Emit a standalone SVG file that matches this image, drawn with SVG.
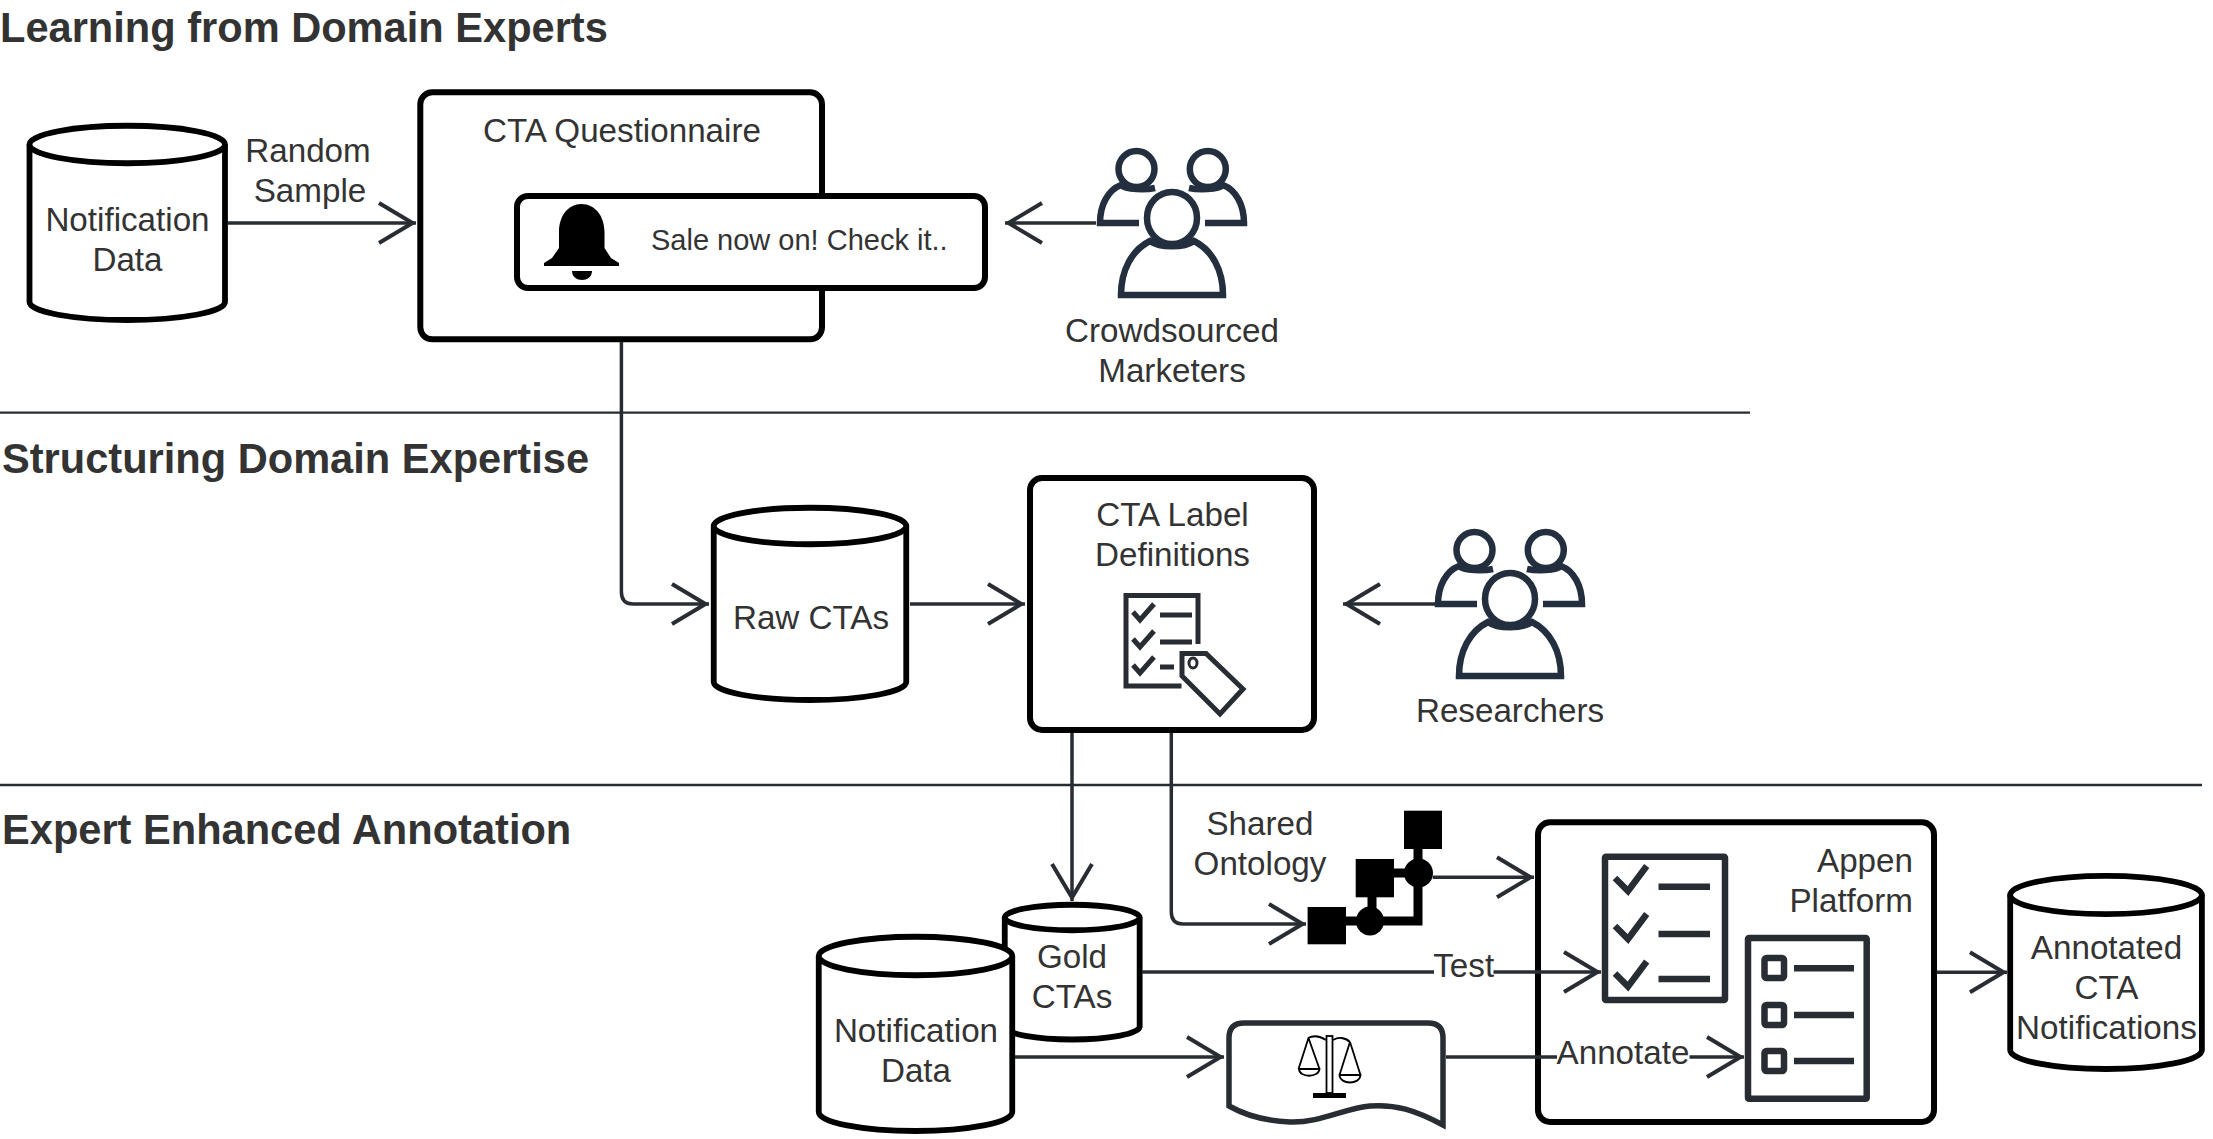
<svg xmlns="http://www.w3.org/2000/svg" xmlns:xlink="http://www.w3.org/1999/xlink" width="2213" height="1139" viewBox="0 0 2213 1139">
<style>
text{font-family:"Liberation Sans",Arial,sans-serif;font-size:33.2px;fill:#333333;text-anchor:middle}
text.title{font-size:41.6px;font-weight:700;text-anchor:start}
text.small{font-size:29px;text-anchor:start}
.box{fill:#fff;stroke:#000;stroke-width:6}
.cyl{fill:#fff;stroke:#000;stroke-width:5.8}
.conn{fill:none;stroke:#282c33;stroke-width:3.5;marker-end:url(#open)}
.plain{fill:none;stroke:#282c33;stroke-width:3.5}
.rule{stroke:#282c33;stroke-width:2.3}
.ink{fill:none;stroke:#282c33;stroke-width:5}
.ink2{fill:none;stroke:#282c33;stroke-width:6.5}
.aws{fill:none;stroke:#232f3e;stroke-width:6.5}
</style>
<defs>
<marker id="open" viewBox="-40 -23 42 46" refX="0" refY="0" markerWidth="42" markerHeight="46" markerUnits="userSpaceOnUse" orient="auto" overflow="visible">
<path d="M-37-20L-3.500 0L-37 20" fill="none" stroke="#282c33" stroke-width="4"/>
</marker>
<g id="people">
<ellipse class="aws" cx="1136.500" cy="169" rx="18" ry="18"/>
<ellipse class="aws" cx="1207.800" cy="169" rx="18" ry="18"/>
<path class="aws" d="M1139 223H1100C1100 205 1108 190 1121 185C1126 190 1146 190 1155 188"/>
<path class="aws" d="M1205 223H1244C1244 205 1236 190 1223 185C1218 190 1198 190 1189 188"/>
<ellipse cx="1172" cy="218" rx="29" ry="30" fill="#fff" stroke="none"/>
<ellipse class="aws" cx="1172" cy="218" rx="25" ry="26"/>
<path class="aws" d="M1121 295C1121 270 1132 250 1150 241C1160 248 1184 248 1194 241C1212 250 1223 270 1223 295Z"/>
</g>
</defs>

<g id="titles">
<text class="title" x="0" y="42">Learning from Domain Experts</text>
<text class="title" x="2" y="473">Structuring Domain Expertise</text>
<text class="title" x="2" y="844">Expert Enhanced Annotation</text>
</g>

<g id="rules">
<line class="rule" x1="0" y1="412.700" x2="1750" y2="412.700"/>
<line class="rule" x1="0" y1="785" x2="2202" y2="785"/>
</g>

<g id="node-notification-data">
<path class="cyl" d="M29.500 144.500V302A97.750 18 0 0 0 225 302V144.500"/>
<ellipse class="cyl" cx="127.250" cy="144.500" rx="97.750" ry="18.750"/>
<text x="127.500" y="230.500">Notification</text>
<text x="127.500" y="270.500">Data</text>
</g>

<g id="node-questionnaire">
<rect class="box" x="420.300" y="92.300" width="401.700" height="247" rx="12"/>
<text x="622" y="141.500">CTA Questionnaire</text>
</g>

<g id="node-notification">
<rect class="box" x="517" y="196" width="468" height="92" rx="11"/>
<path fill="#000" d="M581.500 204C568 204 559 216 559 232V248L552 258L544 263V266H619V263L611 258L604.500 248V232C604.500 216 595 204 581.500 204Z"/>
<path fill="#000" d="M572 271H592C592 277 587 280 582 280C577 280 572 277 572 271Z"/>
<text class="small" x="651" y="250">Sale now on! Check it..</text>
</g>

<g id="node-marketers">
<use xlink:href="#people" href="#people"/>
<text x="1172" y="342">Crowdsourced</text>
<text x="1172" y="382">Marketers</text>
</g>

<g id="node-raw-ctas">
<path class="cyl" d="M713.750 526V682A96.250 18 0 0 0 906.250 682V526"/>
<ellipse class="cyl" cx="810" cy="526" rx="96.250" ry="18.250"/>
<text x="811" y="629">Raw CTAs</text>
</g>

<g id="node-label-definitions">
<rect class="box" x="1030" y="478" width="284" height="252" rx="12"/>
<text x="1172.500" y="526">CTA Label</text>
<text x="1172.500" y="566">Definitions</text>
<path class="ink" d="M1181.500 686H1126V595.500H1198V644"/>
<path class="ink" d="M1133 612L1140 620L1154 604M1133 639L1140 647L1154 631M1133 665L1140 673L1154 657"/>
<path class="ink" d="M1160 615H1192M1160 642H1192M1160 667H1174"/>
<path class="ink" d="M1182 653.500H1206L1243 689L1220 714L1182 676Z" fill="#fff"/>
<ellipse cx="1193" cy="663" rx="4" ry="5" fill="none" stroke="#282c33" stroke-width="3"/>
</g>

<g id="node-researchers">
<use xlink:href="#people" href="#people" transform="translate(338 381)"/>
<text x="1510" y="722">Researchers</text>
</g>

<g id="node-gold-ctas">
<path class="cyl" d="M1004.750 917.500V1027A67.500 13 0 0 0 1139.650 1027V917.500"/>
<ellipse class="cyl" cx="1072.200" cy="917.500" rx="67.450" ry="12.750"/>
<text x="1072" y="968">Gold</text>
<text x="1072" y="1008">CTAs</text>
</g>

<g id="node-notification-data-2">
<path class="cyl" d="M818.750 956V1112A96.750 19 0 0 0 1012.250 1112V956"/>
<ellipse class="cyl" cx="915.500" cy="956" rx="96.750" ry="19.250"/>
<text x="916" y="1042">Notification</text>
<text x="916" y="1082">Data</text>
</g>

<g id="node-ontology">
<rect x="1307.600" y="907" width="38.400" height="37.300"/>
<rect x="1355.700" y="859" width="38.300" height="38.300"/>
<rect x="1404" y="810.700" width="38" height="38.300"/>
<path d="M1346 921H1418V849M1372 897V921M1394 873H1418" fill="none" stroke="#000" stroke-width="9"/>
<ellipse cx="1370" cy="921" rx="14" ry="14.500"/>
<ellipse cx="1418.500" cy="873" rx="14.500" ry="14.500"/>
</g>

<g id="node-document">
<path d="M1229 1106V1038Q1229 1023 1244 1023H1428Q1443 1023 1443 1038V1125C1415 1110 1395 1104 1370 1106C1345 1108 1320 1123 1290 1122C1265 1121 1245 1115 1229 1106Z" fill="#fff" stroke="#282c33" stroke-width="5.500"/>
<g fill="none" stroke="#000" stroke-width="1.800">
<rect x="1326.500" y="1036" width="6" height="57"/>
<path d="M1326 1040C1320 1036 1314 1035 1308 1038M1333 1040C1338 1037 1345 1037 1350 1042"/>
<path d="M1308.500 1038L1298.500 1069M1308.500 1038L1319.500 1069M1299 1069H1319.500C1319 1078 1299 1078 1299 1069Z"/>
<path d="M1350 1042L1339.500 1075M1350 1042L1360.500 1075M1339.500 1075H1360.500C1360 1085 1340 1085 1339.500 1075Z"/>
</g>
<rect x="1313" y="1093" width="33" height="5" fill="#000"/>
</g>

<g id="node-appen">
<rect class="box" x="1538" y="822.300" width="396" height="299.700" rx="12"/>
<text x="1913" y="872" style="text-anchor:end">Appen</text>
<text x="1913" y="912" style="text-anchor:end">Platform</text>
<rect class="ink2" x="1605" y="856.700" width="120" height="143.300" rx="1"/>
<path class="ink2" d="M1615 878L1628 891L1646.700 866M1615 926L1628 939L1646.700 914M1615 973.500L1628 986.500L1646.700 961.500"/>
<path class="ink2" d="M1658.500 886.700H1710M1658.500 934H1710M1658.500 979H1710"/>
<rect class="ink2" x="1748" y="938" width="118.700" height="160.700" rx="1"/>
<rect class="ink2" x="1764.500" y="958" width="19.500" height="20" rx="2"/>
<rect class="ink2" x="1764.500" y="1005" width="19.500" height="20" rx="2"/>
<rect class="ink2" x="1764.500" y="1051" width="19.500" height="20" rx="2"/>
<path class="ink2" d="M1794 968.300H1854M1794 1015H1854M1794 1061H1854"/>
</g>

<g id="node-annotated">
<path class="cyl" d="M2010.200 895V1050A95.850 19 0 0 0 2201.900 1050V895"/>
<ellipse class="cyl" cx="2106" cy="895" rx="95.850" ry="19.100"/>
<text x="2106.500" y="959.300">Annotated</text>
<text x="2106.500" y="999.300">CTA</text>
<text x="2106.500" y="1039.300">Notifications</text>
</g>

<g id="connectors">
<path class="conn" d="M228 223H416"/>
<path class="conn" d="M1096 223H1005"/>
<path class="conn" d="M621.400 342V592Q621.400 604 633 604H709"/>
<path class="conn" d="M910 604H1025"/>
<path class="conn" d="M1435 604H1343"/>
<path class="conn" d="M1072 733V901"/>
<path class="conn" d="M1171.300 733V912Q1171.300 924 1183 924H1306"/>
<path class="conn" d="M1432.700 877.300H1534"/>
<path class="plain" d="M1142 972H1434"/>
<path class="conn" d="M1493.500 972H1601"/>
<path class="conn" d="M1015 1057H1224"/>
<path class="plain" d="M1446 1057H1557"/>
<path class="conn" d="M1689.500 1057H1744"/>
<path class="conn" d="M1937 972.300H2007"/>
<text x="308" y="162">Random</text>
<text x="310" y="202">Sample</text>
<text x="1260" y="835">Shared</text>
<text x="1260" y="875">Ontology</text>
<text x="1463.700" y="977">Test</text>
<text x="1623" y="1064">Annotate</text>
</g>
</svg>
